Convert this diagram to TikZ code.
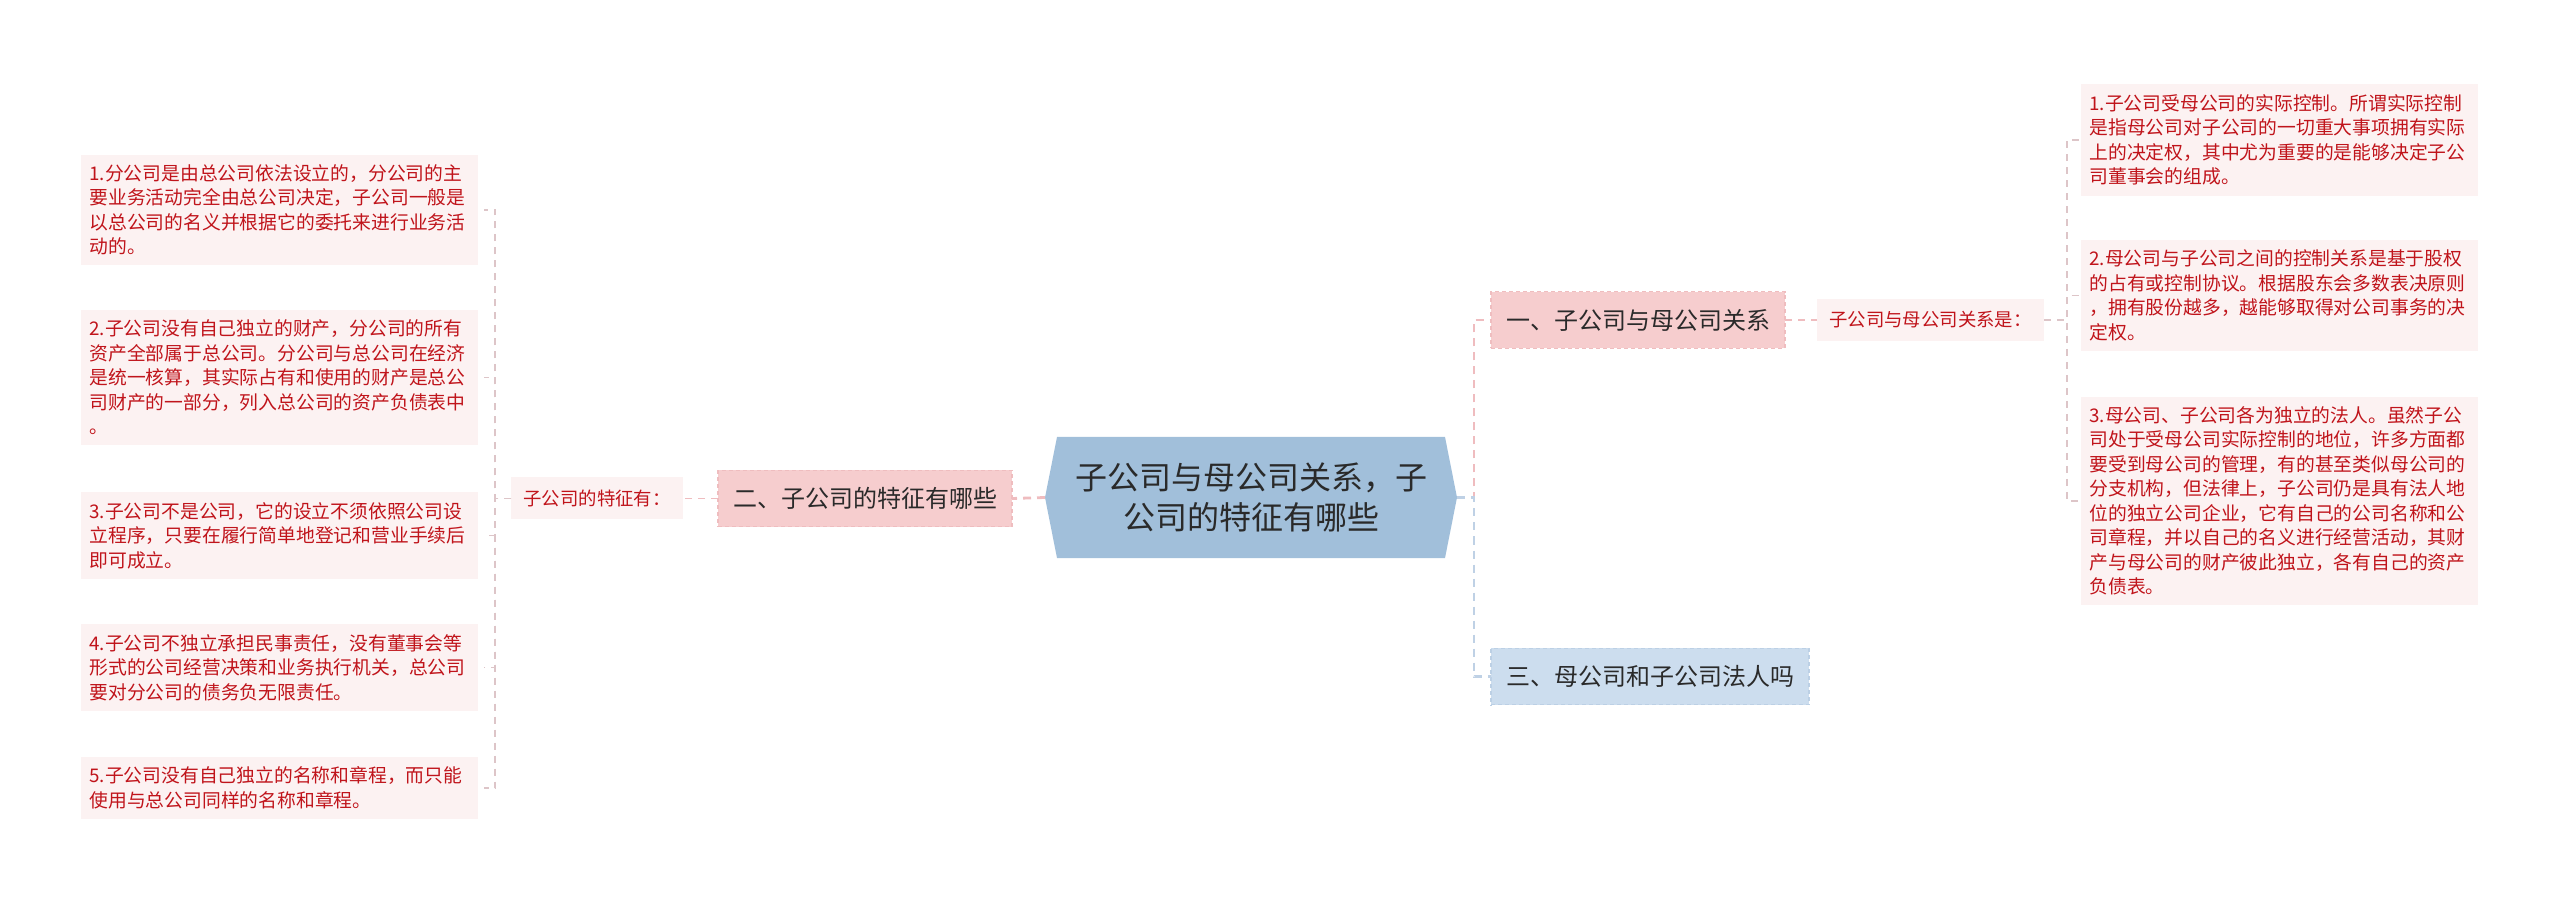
\documentclass[tikz,border=0pt]{standalone}
\usepackage{fontspec}
\setmainfont{Noto Sans CJK SC}
\usetikzlibrary{backgrounds}
\definecolor{hexfill}{HTML}{A1BFDA}
\definecolor{pinkfill}{HTML}{F6CDCE}
\definecolor{pinkedge}{HTML}{EFBDBF}
\definecolor{bluefill}{HTML}{CCDDEE}
\definecolor{blueedge}{HTML}{BCD0E5}
\definecolor{leaffill}{HTML}{FCF2F2}
\definecolor{leaftext}{HTML}{C0141B}
\definecolor{pinkline}{HTML}{EFBCBF}
\definecolor{blueline}{HTML}{BFD1E5}
\definecolor{greyline}{HTML}{DDC5C8}
\definecolor{topictext}{HTML}{2A2A2A}
\begin{document}
\begin{tikzpicture}[x=0.5pt,y=-0.5pt,
  every node/.style={inner sep=0pt, outer sep=0pt},
  leafbox/.style={fill=leaffill, text=leaftext, font=\fontsize{9.4pt}{12.25pt}\selectfont,
    align=left, text width=190pt, inner xsep=4.25pt, inner ysep=5pt, anchor=west},
  midlabel/.style={fill=leaffill, text=leaftext, font=\fontsize{9.2pt}{11pt}\selectfont,
    minimum height=21pt},
  topicpink/.style={fill=pinkfill, draw=pinkedge, dash pattern=on 2pt off 1.5pt, line width=0.6pt,
    font=\fontsize{12pt}{14pt}\selectfont, text=topictext, minimum height=28.3pt},
  topicblue/.style={topicpink, fill=bluefill, draw=blueedge},
  centralbox/.style={font=\fontsize{16pt}{20pt}\selectfont, text=topictext, align=center,
    minimum width=206pt, minimum height=60.5pt},
  mainlink/.style={line width=1.4pt, dash pattern=on 4pt off 3pt},
  sublink/.style={line width=0.9pt, dash pattern=on 3.5pt off 3pt},
  leaflink/.style={greyline, line width=0.7pt, dash pattern=on 3.5pt off 3pt}
]
\useasboundingbox (0,0) rectangle (2560,903);

% central node
\node[centralbox] (c) at (1251,497.5) {子公司与母公司关系，子\\公司的特征有哪些};
\begin{scope}[on background layer]
\fill[hexfill] (c.west) -- ([xshift=6pt]c.north west) -- ([xshift=-6pt]c.north east)
  -- (c.east) -- ([xshift=-6pt]c.south east) -- ([xshift=6pt]c.south west) -- cycle;
\end{scope}

% left side
\node[topicpink, minimum width=147pt] (t2) at (865,498.5) {二、子公司的特征有哪些};
\node[midlabel, minimum width=86pt] (m2) at (597,498.5) {子公司的特征有：};

\node[leafbox] (L1) at (81,210) {1.分公司是由总公司依法设立的，分公司的主\\要业务活动完全由总公司决定，子公司一般是\\以总公司的名义并根据它的委托来进行业务活\\动的。};
\node[leafbox] (L2) at (81,377.5) {2.子公司没有自己独立的财产，分公司的所有\\资产全部属于总公司。分公司与总公司在经济\\是统一核算，其实际占有和使用的财产是总公\\司财产的一部分，列入总公司的资产负债表中\\。};
\node[leafbox] (L3) at (81,535.5) {3.子公司不是公司，它的设立不须依照公司设\\立程序，只要在履行简单地登记和营业手续后\\即可成立。};
\node[leafbox] (L4) at (81,667.5) {4.子公司不独立承担民事责任，没有董事会等\\形式的公司经营决策和业务执行机关，总公司\\要对分公司的债务负无限责任。};
\node[leafbox] (L5) at (81,788) {5.子公司没有自己独立的名称和章程，而只能\\使用与总公司同样的名称和章程。};

% right side
\node[topicpink, minimum width=147pt] (t1) at (1638,320) {一、子公司与母公司关系};
\node[topicblue, minimum width=159pt] (t3) at (1650,676.5) {三、母公司和子公司法人吗};
\node[midlabel, minimum width=113.5pt] (m1) at (1930.5,320) {子公司与母公司关系是：};

\node[leafbox] (R1) at (2081,140) {1.子公司受母公司的实际控制。所谓实际控制\\是指母公司对子公司的一切重大事项拥有实际\\上的决定权，其中尤为重要的是能够决定子公\\司董事会的组成。};
\node[leafbox] (R2) at (2081,295.5) {2.母公司与子公司之间的控制关系是基于股权\\的占有或控制协议。根据股东会多数表决原则\\，拥有股份越多，越能够取得对公司事务的决\\定权。};
\node[leafbox] (R3) at (2081,501) {3.母公司、子公司各为独立的法人。虽然子公\\司处于受母公司实际控制的地位，许多方面都\\要受到母公司的管理，有的甚至类似母公司的\\分支机构，但法律上，子公司仍是具有法人地\\位的独立公司企业，它有自己的公司名称和公\\司章程，并以自己的名义进行经营活动，其财\\产与母公司的财产彼此独立，各有自己的资产\\负债表。};

% junction points
\coordinate (lt) at (495,498.5);
\coordinate (rt) at (1474,497.5);
\coordinate (rt2) at (2067,320);

% connectors
\draw[pinkline, mainlink] (c.west) -- (t2.east);
\draw[pinkline, sublink] (t2.west) -- (m2.east);
\foreach \n in {L1,L2,L3,L4,L5} {
  \draw[leaflink, shorten >=3pt] (m2.west) -- (lt) |- (\n.east);
}
\draw[pinkline, mainlink] (c.east) -- (rt) |- (t1.west);
\draw[blueline, mainlink] (c.east) -- (rt) |- (t3.west);
\draw[pinkline, sublink] (t1.east) -- (m1.west);
\foreach \n in {R1,R2,R3} {
  \draw[leaflink] (m1.east) -- (rt2) |- (\n.west);
}
\end{tikzpicture}
\end{document}
